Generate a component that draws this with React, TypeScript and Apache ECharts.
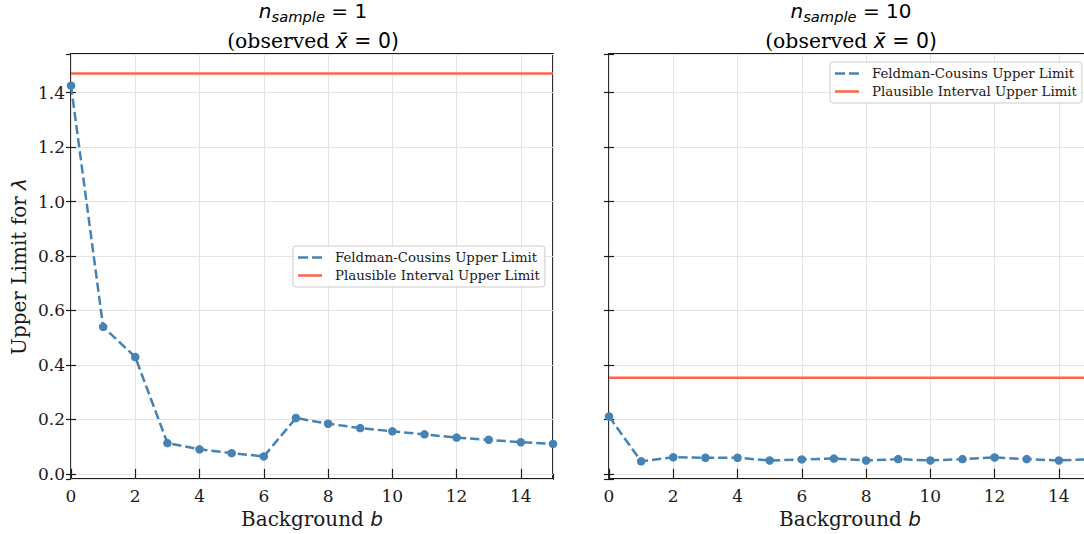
import React, { useEffect, useRef } from "react";
import * as echarts from "echarts";

const backgrounds = [0, 1, 2, 3, 4, 5, 6, 7, 8, 9, 10, 11, 12, 13, 14, 15];
const fcUpperN1 = [1.426, 0.54, 0.429, 0.113, 0.09, 0.076, 0.064, 0.205, 0.184, 0.168, 0.156, 0.145, 0.133, 0.125, 0.116, 0.11];
const fcUpperN10 = [0.211, 0.046, 0.061, 0.059, 0.059, 0.049, 0.053, 0.056, 0.049, 0.054, 0.049, 0.054, 0.06, 0.054, 0.049, 0.054];
const plausibleN1 = 1.47;
const plausibleN10 = 0.353;
const xTicks = [0, 2, 4, 6, 8, 10, 12, 14];
const yTicks = [0, 0.2, 0.4, 0.6, 0.8, 1.0, 1.2, 1.4];
const FC = "Feldman-Cousins Upper Limit";
const PI = "Plausible Interval Upper Limit";

const SERIF = "DejaVu Serif";
const SANS = "DejaVu Sans";
const BLUE = "#4682b4";
const RED = "#ff6347";
const INK = "#1a1a1a";

export default function App() {
  const ref = useRef<HTMLDivElement>(null);
  useEffect(() => {
    if (!ref.current) return;
    const chart = echarts.init(ref.current, undefined, { renderer: "svg" });
    const grids = [
      { left: 71, top: 54, width: 482, height: 425 },
      { left: 609, top: 54, width: 482, height: 425 },
    ];
    const xAxes: any[] = [];
    const yAxes: any[] = [];
    const yLabel = (v: number) => {
      const t = yTicks.find((y) => Math.abs(y - v) < 1e-6);
      return t === undefined ? "" : t.toFixed(1);
    };
    const tick = { show: true, inside: true, length: 5, lineStyle: { color: INK, width: 1.2 } };
    grids.forEach((_, i) => {
      xAxes.push({
        type: "value",
        gridIndex: i,
        min: 0,
        max: 15,
        interval: 2,
        position: "bottom",
        name: "{a|Background }{b|b}",
        nameLocation: "middle",
        nameGap: 27,
        nameTextStyle: {
          rich: {
            a: { fontFamily: SERIF, fontSize: 20, color: INK },
            b: { fontFamily: SANS, fontStyle: "italic", fontSize: 20, color: INK },
          },
        },
        axisLine: { show: false },
        axisTick: tick,
        axisLabel: {
          showMaxLabel: false,
          margin: 8,
          fontFamily: SERIF,
          fontSize: 17,
          color: INK,
          formatter: (v: number) => (xTicks.includes(v) ? String(v) : ""),
        },
        splitLine: { show: true, lineStyle: { color: "#e4e4e4", width: 1 } },
      });
      xAxes.push({
        type: "value",
        gridIndex: i,
        min: 0,
        max: 15,
        interval: 2,
        position: "top",
        axisLine: { show: false },
        axisTick: tick,
        axisLabel: { show: false },
        splitLine: { show: false },
      });
      yAxes.push({
        type: "value",
        gridIndex: i,
        min: -0.019,
        max: 1.542,
        splitNumber: 8,
        position: "left",
        name: i === 0 ? "{a|Upper Limit for }{b|λ}" : "",
        nameLocation: "middle",
        nameGap: 42,
        nameTextStyle: {
          rich: {
            a: { fontFamily: SERIF, fontSize: 20, color: INK },
            b: { fontFamily: SANS, fontStyle: "italic", fontSize: 20, color: INK },
          },
        },
        axisLine: { show: false },
        axisTick: tick,
        axisLabel: {
          show: i === 0,
          showMinLabel: false,
          showMaxLabel: false,
          margin: 6,
          fontFamily: SERIF,
          fontSize: 17,
          color: INK,
          formatter: yLabel,
        },
        splitLine: { show: true, lineStyle: { color: "#e4e4e4", width: 1 } },
      });
      yAxes.push({
        type: "value",
        gridIndex: i,
        min: -0.019,
        max: 1.542,
        splitNumber: 8,
        position: "right",
        axisLine: { show: false },
        axisTick: tick,
        axisLabel: { show: false },
        splitLine: { show: false },
      });
    });

    const dashIcon = "path://M0,0H10V2.5H0Z M14,0H24V2.5H14Z";
    const solidIcon = "path://M0,0H24V2.5H0Z";
    const legendBase = {
      orient: "vertical",
      itemWidth: 24,
      itemHeight: 2.5,
      itemGap: 5,
      symbolKeepAspect: false,
      backgroundColor: "rgba(255,255,255,0.85)",
      borderColor: "#cccccc",
      borderWidth: 1,
      borderRadius: 3,
      padding: [5, 5, 5, 5],
      textStyle: { fontFamily: SERIF, fontSize: 13.3, color: INK, padding: [0, 0, 0, 8] },
      data: [
        { name: FC, icon: dashIcon, itemStyle: { color: BLUE } },
        { name: PI, icon: solidIcon, itemStyle: { color: RED } },
      ],
      selectedMode: false,
    };

    const fcSeries = (i: number, vals: number[]) => ({
      type: "line",
      name: FC,
      xAxisIndex: i * 2,
      yAxisIndex: i * 2,
      data: backgrounds.map((b, k) => [b, vals[k]]),
      symbol: "circle",
      symbolSize: 8.5,
      itemStyle: { color: BLUE },
      lineStyle: { color: BLUE, width: 2.5, type: [9.25, 4] },
      z: 3,
    });
    const piSeries = (i: number, v: number) => ({
      type: "line",
      name: PI,
      xAxisIndex: i * 2,
      yAxisIndex: i * 2,
      data: [
        [backgrounds[0], v],
        [backgrounds[backgrounds.length - 1], v],
      ],
      symbol: "none",
      itemStyle: { color: RED },
      lineStyle: { color: RED, width: 2.5 },
      z: 2,
    });

    const titleRich = {
      n: { fontFamily: SANS, fontStyle: "italic", fontSize: 20, color: INK },
      s: { fontFamily: SANS, fontStyle: "italic", fontSize: 14.7, color: INK, padding: [10, 0, 0, 0] },
      e: { fontFamily: SANS, fontSize: 20, color: INK },
      o: { fontFamily: SERIF, fontSize: 20.4, color: INK },
      x: { fontFamily: SANS, fontStyle: "italic", fontSize: 20.4, color: INK },
      f: { fontFamily: SANS, fontSize: 20.4, color: INK },
    };
    const titleText = (n: number) => [
      {
        type: "text",
        x: 0,
        y: 0,
        style: {
          text: `{n|n}{s|sample}{e| = ${n}}`,
          rich: titleRich,
          align: "center",
          verticalAlign: "middle",
        },
      },
      {
        type: "text",
        x: 0,
        y: 30,
        style: {
          text: "{o|(observed }{x|x̄}{f| = 0)}",
          rich: titleRich,
          align: "center",
          verticalAlign: "middle",
        },
      },
    ];

    chart.setOption({
      animation: false,
      backgroundColor: "#ffffff",
      grid: grids.map((g) => ({ ...g, show: true, borderColor: INK, borderWidth: 1.8, backgroundColor: "transparent" })),
      xAxis: xAxes,
      yAxis: yAxes,
      legend: [
        { ...legendBase, left: 293, top: 246 },
        { ...legendBase, left: 830, top: 62 },
      ],
      series: [fcSeries(0, fcUpperN1), piSeries(0, plausibleN1), fcSeries(1, fcUpperN10), piSeries(1, plausibleN10)],
      graphic: [
        { type: "group", x: 313, y: 11, children: titleText(1) },
        { type: "group", x: 851, y: 11, children: titleText(10) },
      ],
    });
    return () => chart.dispose();
  }, []);
  return <div ref={ref} style={{ position: "fixed", left: 0, top: 0, width: 1100, height: 534 }} />;
}
